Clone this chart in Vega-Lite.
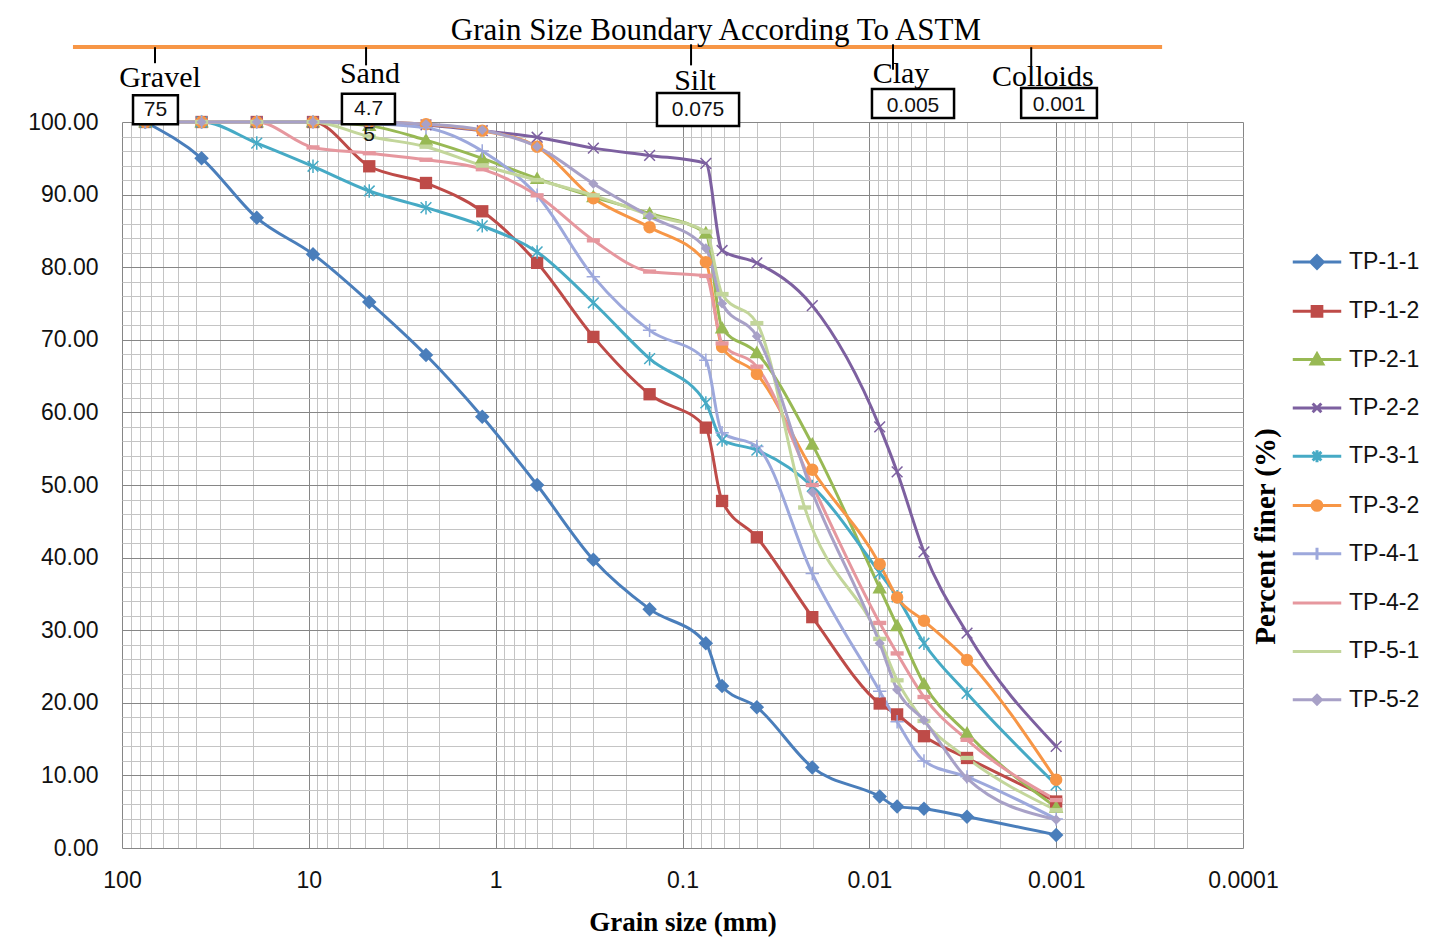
{
  "$schema": "https://vega.github.io/schema/vega-lite/v6.json",
  "width": 1121,
  "height": 726,
  "autosize": "none",
  "padding": {"left": 122, "top": 122, "right": 188, "bottom": 98},
  "background": "white",
  "config": {"view": {"stroke": null}},
  "datasets": {
    "grain": [
      {"series":"TP-1-1","d":75,"p":100},{"series":"TP-1-1","d":37.5,"p":95.0},{"series":"TP-1-1","d":19,"p":86.8},{"series":"TP-1-1","d":9.5,"p":81.8},{"series":"TP-1-1","d":4.75,"p":75.2},{"series":"TP-1-1","d":2.36,"p":67.9},{"series":"TP-1-1","d":1.18,"p":59.4},{"series":"TP-1-1","d":0.6,"p":50.0},{"series":"TP-1-1","d":0.3,"p":39.7},{"series":"TP-1-1","d":0.15,"p":32.9},{"series":"TP-1-1","d":0.075,"p":28.2},{"series":"TP-1-1","d":0.0614,"p":22.3},{"series":"TP-1-1","d":0.04,"p":19.4},{"series":"TP-1-1","d":0.0202,"p":11.1},{"series":"TP-1-1","d":0.0088,"p":7.1},{"series":"TP-1-1","d":0.0071,"p":5.7},{"series":"TP-1-1","d":0.0051,"p":5.4},{"series":"TP-1-1","d":0.003,"p":4.3},{"series":"TP-1-1","d":0.001,"p":1.8},
      {"series":"TP-1-2","d":75,"p":100},{"series":"TP-1-2","d":37.5,"p":100},{"series":"TP-1-2","d":19,"p":100},{"series":"TP-1-2","d":9.5,"p":100},{"series":"TP-1-2","d":4.75,"p":93.9},{"series":"TP-1-2","d":2.36,"p":91.6},{"series":"TP-1-2","d":1.18,"p":87.7},{"series":"TP-1-2","d":0.6,"p":80.6},{"series":"TP-1-2","d":0.3,"p":70.4},{"series":"TP-1-2","d":0.15,"p":62.5},{"series":"TP-1-2","d":0.075,"p":57.9},{"series":"TP-1-2","d":0.0614,"p":47.8},{"series":"TP-1-2","d":0.04,"p":42.8},{"series":"TP-1-2","d":0.0202,"p":31.8},{"series":"TP-1-2","d":0.0088,"p":19.9},{"series":"TP-1-2","d":0.0071,"p":18.4},{"series":"TP-1-2","d":0.0051,"p":15.4},{"series":"TP-1-2","d":0.003,"p":12.4},{"series":"TP-1-2","d":0.001,"p":6.4},
      {"series":"TP-2-1","d":75,"p":100},{"series":"TP-2-1","d":37.5,"p":100},{"series":"TP-2-1","d":19,"p":100},{"series":"TP-2-1","d":9.5,"p":100},{"series":"TP-2-1","d":4.75,"p":99.5},{"series":"TP-2-1","d":2.36,"p":97.5},{"series":"TP-2-1","d":1.18,"p":95.0},{"series":"TP-2-1","d":0.6,"p":92.2},{"series":"TP-2-1","d":0.3,"p":89.7},{"series":"TP-2-1","d":0.15,"p":87.4},{"series":"TP-2-1","d":0.075,"p":84.7},{"series":"TP-2-1","d":0.0614,"p":71.6},{"series":"TP-2-1","d":0.04,"p":68.2},{"series":"TP-2-1","d":0.0202,"p":55.6},{"series":"TP-2-1","d":0.0088,"p":35.8},{"series":"TP-2-1","d":0.0071,"p":30.6},{"series":"TP-2-1","d":0.0051,"p":22.6},{"series":"TP-2-1","d":0.003,"p":15.8},{"series":"TP-2-1","d":0.001,"p":5.6},
      {"series":"TP-2-2","d":75,"p":100},{"series":"TP-2-2","d":37.5,"p":100},{"series":"TP-2-2","d":19,"p":100},{"series":"TP-2-2","d":9.5,"p":100},{"series":"TP-2-2","d":4.75,"p":100},{"series":"TP-2-2","d":2.36,"p":99.6},{"series":"TP-2-2","d":1.18,"p":98.8},{"series":"TP-2-2","d":0.6,"p":97.9},{"series":"TP-2-2","d":0.3,"p":96.4},{"series":"TP-2-2","d":0.15,"p":95.4},{"series":"TP-2-2","d":0.075,"p":94.3},{"series":"TP-2-2","d":0.0614,"p":82.3},{"series":"TP-2-2","d":0.04,"p":80.6},{"series":"TP-2-2","d":0.0202,"p":74.7},{"series":"TP-2-2","d":0.0088,"p":58.0},{"series":"TP-2-2","d":0.0071,"p":51.8},{"series":"TP-2-2","d":0.0051,"p":40.8},{"series":"TP-2-2","d":0.003,"p":29.6},{"series":"TP-2-2","d":0.001,"p":14.0},
      {"series":"TP-3-1","d":75,"p":100},{"series":"TP-3-1","d":37.5,"p":100},{"series":"TP-3-1","d":19,"p":97.1},{"series":"TP-3-1","d":9.5,"p":93.9},{"series":"TP-3-1","d":4.75,"p":90.5},{"series":"TP-3-1","d":2.36,"p":88.2},{"series":"TP-3-1","d":1.18,"p":85.7},{"series":"TP-3-1","d":0.6,"p":82.1},{"series":"TP-3-1","d":0.3,"p":75.1},{"series":"TP-3-1","d":0.15,"p":67.4},{"series":"TP-3-1","d":0.075,"p":61.3},{"series":"TP-3-1","d":0.0614,"p":56.2},{"series":"TP-3-1","d":0.04,"p":54.8},{"series":"TP-3-1","d":0.0202,"p":49.8},{"series":"TP-3-1","d":0.0088,"p":37.9},{"series":"TP-3-1","d":0.0071,"p":34.6},{"series":"TP-3-1","d":0.0051,"p":28.2},{"series":"TP-3-1","d":0.003,"p":21.3},{"series":"TP-3-1","d":0.001,"p":8.7},
      {"series":"TP-3-2","d":75,"p":100},{"series":"TP-3-2","d":37.5,"p":100},{"series":"TP-3-2","d":19,"p":100},{"series":"TP-3-2","d":9.5,"p":100},{"series":"TP-3-2","d":4.75,"p":100},{"series":"TP-3-2","d":2.36,"p":99.7},{"series":"TP-3-2","d":1.18,"p":98.8},{"series":"TP-3-2","d":0.6,"p":96.6},{"series":"TP-3-2","d":0.3,"p":89.5},{"series":"TP-3-2","d":0.15,"p":85.5},{"series":"TP-3-2","d":0.075,"p":80.7},{"series":"TP-3-2","d":0.0614,"p":69.0},{"series":"TP-3-2","d":0.04,"p":65.3},{"series":"TP-3-2","d":0.0202,"p":52.1},{"series":"TP-3-2","d":0.0088,"p":39.1},{"series":"TP-3-2","d":0.0071,"p":34.5},{"series":"TP-3-2","d":0.0051,"p":31.3},{"series":"TP-3-2","d":0.003,"p":25.9},{"series":"TP-3-2","d":0.001,"p":9.4},
      {"series":"TP-4-1","d":75,"p":100},{"series":"TP-4-1","d":37.5,"p":100},{"series":"TP-4-1","d":19,"p":100},{"series":"TP-4-1","d":9.5,"p":100},{"series":"TP-4-1","d":4.75,"p":99.8},{"series":"TP-4-1","d":2.36,"p":99.2},{"series":"TP-4-1","d":1.18,"p":96.0},{"series":"TP-4-1","d":0.6,"p":89.9},{"series":"TP-4-1","d":0.3,"p":78.7},{"series":"TP-4-1","d":0.15,"p":71.3},{"series":"TP-4-1","d":0.075,"p":67.2},{"series":"TP-4-1","d":0.0614,"p":57.2},{"series":"TP-4-1","d":0.04,"p":55.3},{"series":"TP-4-1","d":0.0202,"p":37.8},{"series":"TP-4-1","d":0.0088,"p":21.6},{"series":"TP-4-1","d":0.0071,"p":17.4},{"series":"TP-4-1","d":0.0051,"p":12.0},{"series":"TP-4-1","d":0.003,"p":9.8},{"series":"TP-4-1","d":0.001,"p":4.0},
      {"series":"TP-4-2","d":75,"p":100},{"series":"TP-4-2","d":37.5,"p":100},{"series":"TP-4-2","d":19,"p":100},{"series":"TP-4-2","d":9.5,"p":96.5},{"series":"TP-4-2","d":4.75,"p":95.7},{"series":"TP-4-2","d":2.36,"p":94.8},{"series":"TP-4-2","d":1.18,"p":93.5},{"series":"TP-4-2","d":0.6,"p":89.9},{"series":"TP-4-2","d":0.3,"p":83.7},{"series":"TP-4-2","d":0.15,"p":79.4},{"series":"TP-4-2","d":0.075,"p":78.8},{"series":"TP-4-2","d":0.0614,"p":69.5},{"series":"TP-4-2","d":0.04,"p":66.3},{"series":"TP-4-2","d":0.0202,"p":50.0},{"series":"TP-4-2","d":0.0088,"p":31.0},{"series":"TP-4-2","d":0.0071,"p":26.8},{"series":"TP-4-2","d":0.0051,"p":20.8},{"series":"TP-4-2","d":0.003,"p":14.9},{"series":"TP-4-2","d":0.001,"p":6.6},
      {"series":"TP-5-1","d":75,"p":100},{"series":"TP-5-1","d":37.5,"p":100},{"series":"TP-5-1","d":19,"p":100},{"series":"TP-5-1","d":9.5,"p":100},{"series":"TP-5-1","d":4.75,"p":98.0},{"series":"TP-5-1","d":2.36,"p":96.6},{"series":"TP-5-1","d":1.18,"p":94.0},{"series":"TP-5-1","d":0.6,"p":92.0},{"series":"TP-5-1","d":0.3,"p":89.9},{"series":"TP-5-1","d":0.15,"p":87.2},{"series":"TP-5-1","d":0.075,"p":84.9},{"series":"TP-5-1","d":0.0614,"p":76.3},{"series":"TP-5-1","d":0.04,"p":72.3},{"series":"TP-5-1","d":0.0222,"p":46.9},{"series":"TP-5-1","d":0.0088,"p":28.8},{"series":"TP-5-1","d":0.0071,"p":23.1},{"series":"TP-5-1","d":0.0051,"p":17.5},{"series":"TP-5-1","d":0.003,"p":12.4},{"series":"TP-5-1","d":0.001,"p":5.2},
      {"series":"TP-5-2","d":75,"p":100},{"series":"TP-5-2","d":37.5,"p":100},{"series":"TP-5-2","d":19,"p":100},{"series":"TP-5-2","d":9.5,"p":100},{"series":"TP-5-2","d":4.75,"p":100},{"series":"TP-5-2","d":2.36,"p":99.7},{"series":"TP-5-2","d":1.18,"p":98.9},{"series":"TP-5-2","d":0.6,"p":96.6},{"series":"TP-5-2","d":0.3,"p":91.5},{"series":"TP-5-2","d":0.15,"p":87.0},{"series":"TP-5-2","d":0.075,"p":82.6},{"series":"TP-5-2","d":0.0614,"p":75.0},{"series":"TP-5-2","d":0.04,"p":70.5},{"series":"TP-5-2","d":0.0202,"p":49.0},{"series":"TP-5-2","d":0.0088,"p":28.2},{"series":"TP-5-2","d":0.0071,"p":21.8},{"series":"TP-5-2","d":0.0051,"p":17.6},{"series":"TP-5-2","d":0.003,"p":9.6},{"series":"TP-5-2","d":0.001,"p":3.9}
    ],
    "band": [{"d": 183, "d2": 0.000271, "p": 110.33}],
    "ticks": [
      {"d": 66.6, "p": 110.3, "p2": 108.1},
      {"d": 4.94, "p": 110.3, "p2": 107.8},
      {"d": 0.09, "p": 110.7, "p2": 107.8},
      {"d": 0.00747, "p": 110.7, "p2": 107.2},
      {"d": 0.00136, "p": 110.3, "p2": 107.6}
    ],
    "boxes": [
      {"d": 87.3, "d2": 50.2, "p": 103.7, "p2": 99.7},
      {"d": 6.65, "d2": 3.46, "p": 103.9, "p2": 99.7},
      {"d": 0.137, "d2": 0.0498, "p": 104.0, "p2": 99.45},
      {"d": 0.00968, "d2": 0.00352, "p": 104.55, "p2": 100.55},
      {"d": 0.00154, "d2": 0.000605, "p": 104.7, "p2": 100.55}
    ],
    "boxtext": [
      {"d": 66.2, "p": 101.7, "text": "75"},
      {"d": 4.79, "p": 101.85, "text": "4.7"},
      {"d": 4.76, "p": 98.2, "text": "5"},
      {"d": 0.0826, "p": 101.6, "text": "0.075"},
      {"d": 0.00584, "p": 102.15, "text": "0.005"},
      {"d": 0.000965, "p": 102.3, "text": "0.001"}
    ],
    "classes": [
      {"d": 62.6, "p": 104.8, "text": "Gravel"},
      {"d": 4.71, "p": 105.4, "text": "Sand"},
      {"d": 0.0857, "p": 104.4, "text": "Silt"},
      {"d": 0.00677, "p": 105.4, "text": "Clay"},
      {"d": 0.00118, "p": 105.0, "text": "Colloids"}
    ],
    "heading": [{"d": 0.0662, "p": 111.3, "text": "Grain Size Boundary According To ASTM"}]
  },
  "encoding": {
    "x": {
      "field": "d", "type": "quantitative",
      "scale": {"type": "log", "domain": [0.0001, 100], "reverse": true, "nice": false},
      "axis": {
        "title": "Grain size (mm)",
        "titleFont": "Liberation Serif", "titleFontSize": 27, "titleFontWeight": "bold", "titleColor": "#000000",
        "titleY": 74, "titleBaseline": "middle",
        "values": [0.0001,0.0002,0.0003,0.0004,0.0005,0.0006,0.0007,0.0008,0.0009,0.001,0.002,0.003,0.004,0.005,0.006,0.007,0.008,0.009,0.01,0.02,0.03,0.04,0.05,0.06,0.07,0.08,0.09,0.1,0.2,0.3,0.4,0.5,0.6,0.7,0.8,0.9,1,2,3,4,5,6,7,8,9,10,20,30,40,50,60,70,80,90,100],
        "labelExpr": "abs(log(datum.value)/LN10 - round(log(datum.value)/LN10)) < 0.000001 ? format(datum.value, '.4~f') : ''",
        "labelFont": "Liberation Sans", "labelFontSize": 23, "labelColor": "#111111",
        "labelPadding": 21, "labelOverlap": false, "labelFlush": false,
        "ticks": false, "domain": false,
        "grid": true, "gridWidth": 1,
        "gridColor": {"condition": {"test": "abs(log(datum.value)/LN10 - round(log(datum.value)/LN10)) < 0.000001", "value": "#868686"}, "value": "#c4c4c4"}
      }
    },
    "y": {
      "field": "p", "type": "quantitative",
      "scale": {"domain": [0, 100], "nice": false, "zero": true},
      "axis": {
        "title": "Percent finer (%)",
        "titleFont": "Liberation Serif", "titleFontSize": 29, "titleFontWeight": "bold", "titleColor": "#000000",
        "titleX": 1143, "titleY": 414, "titleAngle": 270, "titleBaseline": "middle", "titleAlign": "center",
        "values": [0,2,4,6,8,10,12,14,16,18,20,22,24,26,28,30,32,34,36,38,40,42,44,46,48,50,52,54,56,58,60,62,64,66,68,70,72,74,76,78,80,82,84,86,88,90,92,94,96,98,100],
        "labelExpr": "datum.value % 10 === 0 ? format(datum.value, '.2f') : ''",
        "labelFont": "Liberation Sans", "labelFontSize": 23, "labelColor": "#111111",
        "labelPadding": 24, "labelOverlap": false, "labelFlush": false,
        "ticks": false, "domain": false,
        "grid": true, "gridWidth": 1,
        "gridColor": {"condition": {"test": "datum.value % 10 === 0", "value": "#868686"}, "value": "#c4c4c4"}
      }
    },
    "color": {
      "field": "series", "type": "nominal",
      "scale": {
        "domain": ["TP-1-1","TP-1-2","TP-2-1","TP-2-2","TP-3-1","TP-3-2","TP-4-1","TP-4-2","TP-5-1","TP-5-2"],
        "range": ["#4A7EBB","#BE4B48","#98B954","#7D60A0","#46AAC5","#F79646","#9DA8DC","#E6979E","#C3D69B","#A8A1C7"]
      },
      "legend": null
    }
  },
  "layer": [
    {
      "data": {"name": "grain"},
      "mark": {"type": "line", "interpolate": "monotone", "strokeCap": "round", "strokeJoin": "round"},
      "encoding": {
        "color": {
          "field": "series", "type": "nominal",
          "legend": {
            "orient": "none", "legendX": 1169, "legendY": 114,
            "title": null,
            "symbolType": "stroke",
            "labelFont": "Liberation Sans", "labelFontSize": 23, "labelColor": "#111111",
            "symbolSize": 2350, "symbolStrokeWidth": 3, "rowPadding": 10.3, "labelOffset": 6,
            "encode": {
              "symbols": {
                "update": {
                  "shape": {"signal": "{'TP-1-1':'M-1,0H1M0,-0.26L0.26,0L0,0.26L-0.26,0Z','TP-1-2':'M-1,0H1M-0.2,-0.2H0.2V0.2H-0.2Z','TP-2-1':'M-1,0H1M0,-0.24L0.24,0.18H-0.24Z','TP-2-2':'M-1,0H1M-0.18,-0.18L0.18,0.18M-0.18,0.18L0.18,-0.18','TP-3-1':'M-1,0H1M-0.18,-0.18L0.18,0.18M-0.18,0.18L0.18,-0.18M0,-0.25V0.25','TP-3-2':'M-1,0H1M0.2,0A0.2,0.2,0,1,1,-0.2,0A0.2,0.2,0,1,1,0.2,0Z','TP-4-1':'M-1,0H1M0,-0.25V0.25','TP-4-2':'M-1,0H1','TP-5-1':'M-1,0H1','TP-5-2':'M-1,0H1M0,-0.18L0.18,0L0,0.18L-0.18,0Z'}[datum.value]"},
                  "fill": {"scale": "color", "field": "value"},
                  "stroke": {"scale": "color", "field": "value"},
                  "strokeWidth": {"signal": "datum.value === 'TP-5-1' ? 5 : 3"},
                  "opacity": {"value": 1}
                }
              }
            }
          }
        },
        "strokeWidth": {
          "field": "series", "type": "nominal",
          "scale": {
            "domain": ["TP-1-1","TP-1-2","TP-2-1","TP-2-2","TP-3-1","TP-3-2","TP-4-1","TP-4-2","TP-5-1","TP-5-2"],
            "range": [3,3,3,3,3,3,3,3,5.5,3]
          },
          "legend": null
        }
      }
    },
    {
      "data": {"name": "grain"},
      "transform": [{"filter": {"field": "series", "equal": "TP-1-1"}}],
      "mark": {"type": "point", "filled": true, "size": 210, "opacity": 1, "shape": "M0,-1L1,0L0,1L-1,0Z"}
    },
    {
      "data": {"name": "grain"},
      "transform": [{"filter": {"field": "series", "equal": "TP-1-2"}}],
      "mark": {"type": "point", "filled": true, "size": 210, "opacity": 1, "shape": "M-0.85,-0.85H0.85V0.85H-0.85Z"}
    },
    {
      "data": {"name": "grain"},
      "transform": [{"filter": {"field": "series", "equal": "TP-2-1"}}],
      "mark": {"type": "point", "filled": true, "size": 210, "opacity": 1, "shape": "M0,-1L1,0.75H-1Z"}
    },
    {
      "data": {"name": "grain"},
      "transform": [{"filter": {"field": "series", "equal": "TP-2-2"}}],
      "mark": {"type": "point", "filled": false, "size": 180, "strokeWidth": 1.5, "opacity": 1, "shape": "M-0.8,-0.8L0.8,0.8M-0.8,0.8L0.8,-0.8"}
    },
    {
      "data": {"name": "grain"},
      "transform": [{"filter": {"field": "series", "equal": "TP-3-1"}}],
      "mark": {"type": "point", "filled": false, "size": 180, "strokeWidth": 1.5, "opacity": 1, "shape": "M-0.8,-0.8L0.8,0.8M-0.8,0.8L0.8,-0.8M0,-1V1"}
    },
    {
      "data": {"name": "grain"},
      "transform": [{"filter": {"field": "series", "equal": "TP-3-2"}}],
      "mark": {"type": "point", "filled": true, "size": 210, "opacity": 1, "shape": "M0.85,0A0.85,0.85,0,1,1,-0.85,0A0.85,0.85,0,1,1,0.85,0Z"}
    },
    {
      "data": {"name": "grain"},
      "transform": [{"filter": {"field": "series", "equal": "TP-4-1"}}],
      "mark": {"type": "point", "filled": false, "size": 180, "strokeWidth": 1.5, "opacity": 1, "shape": "M0,-1V1M-1,0H1"}
    },
    {
      "data": {"name": "grain"},
      "transform": [{"filter": {"field": "series", "oneOf": ["TP-4-2", "TP-5-1"]}}],
      "mark": {"type": "point", "filled": true, "size": 210, "opacity": 1, "shape": "M-0.9,-0.3H0.9V0.3H-0.9Z"}
    },
    {
      "data": {"name": "grain"},
      "transform": [{"filter": {"field": "series", "equal": "TP-5-2"}}],
      "mark": {"type": "point", "filled": true, "size": 210, "opacity": 1, "shape": "M0,-0.7L0.7,0L0,0.7L-0.7,0Z"}
    },
    {
      "data": {"name": "band"},
      "mark": {"type": "rule", "color": "#F79646", "strokeWidth": 4},
      "encoding": {"x2": {"field": "d2"}, "color": null}
    },
    {
      "data": {"name": "ticks"},
      "mark": {"type": "rule", "color": "#000000", "strokeWidth": 2},
      "encoding": {"y2": {"field": "p2"}, "color": null}
    },
    {
      "data": {"name": "boxes"},
      "mark": {"type": "rect", "fill": "#ffffff", "stroke": "#000000", "strokeWidth": 2.5},
      "encoding": {"x2": {"field": "d2"}, "y2": {"field": "p2"}, "color": null}
    },
    {
      "data": {"name": "boxtext"},
      "mark": {"type": "text", "font": "Liberation Sans", "fontSize": 21, "color": "#111111", "baseline": "middle", "align": "center"},
      "encoding": {"text": {"field": "text"}, "color": null}
    },
    {
      "data": {"name": "classes"},
      "mark": {"type": "text", "font": "Liberation Serif", "fontSize": 30, "color": "#000000", "baseline": "alphabetic", "align": "center"},
      "encoding": {"text": {"field": "text"}, "color": null}
    },
    {
      "data": {"name": "heading"},
      "mark": {"type": "text", "font": "Liberation Serif", "fontSize": 31, "color": "#000000", "baseline": "alphabetic", "align": "center"},
      "encoding": {"text": {"field": "text"}, "color": null}
    }
  ]
}
